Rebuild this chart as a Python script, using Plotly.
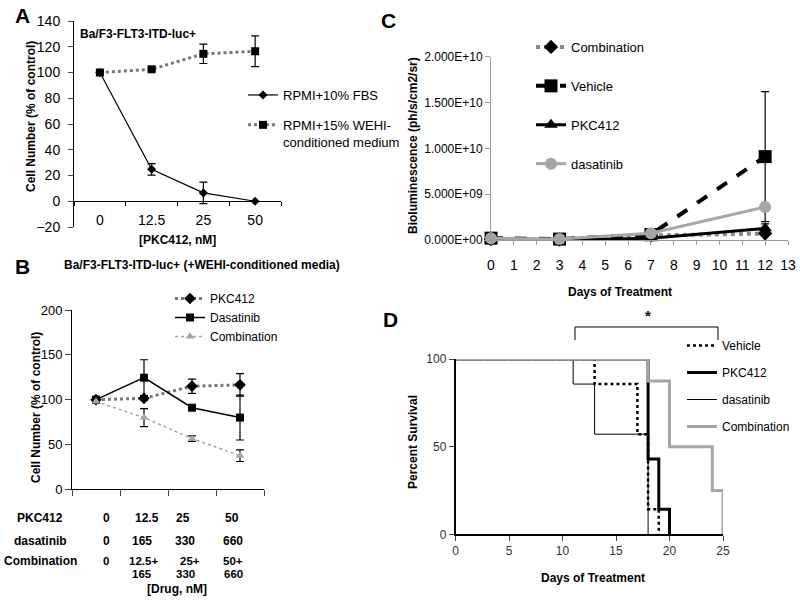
import plotly.graph_objects as go

# ---------------- data ----------------
# Panel A
a_conc = ["0", "12.5", "25", "50"]
a_fbs = [100, 24.8, 6.5, 0]
a_fbs_err = [0, 4.5, 8.3, 0]
a_wehi = [100, 102.5, 114.5, 116.5]
a_wehi_err = [1, 1, 7.5, 12]

# Panel B
b_conc = ["0", "12.5", "25", "50"]
b_pkc = [100, 101.5, 115, 116.5]
b_pkc_err = [2, 2, 8, 12.5]
b_das = [100, 124.5, 91, 80]
b_das_err = [3, 20, 2.5, 25]
b_comb = [98, 80, 56.5, 37.5]
b_comb_err = [2, 10, 3, 6.5]
b_tbl_pkc = ["0", "12.5", "25", "50"]
b_tbl_das = ["0", "165", "330", "660"]
b_tbl_comb_top = ["0", "12.5+", "25+", "50+"]
b_tbl_comb_bot = ["", "165", "330", "660"]

# Panel C
c_days = [0, 3, 7, 12]
c_comb = [1.0e8, 0.5e8, 5.0e8, 7.0e8]
c_veh = [2.0e8, 1.0e8, 6.0e8, 9.1e9]
c_veh_err = [0, 0, 0, 7.1e9]
c_pkc = [0.0, 0.0, 2.0e8, 1.27e9]
c_pkc_err = [0, 0, 0, 5e8]
c_das = [2.0e8, 1.0e8, 7.3e8, 3.6e9]
c_ytickvals = [0, 5e9, 1e10, 1.5e10, 2e10]
c_yticktext = ["0.000E+00", "5.000E+09", "1.000E+10", "1.500E+10", "2.000E+10"]

# Panel D (Kaplan-Meier steps)
d_veh_t = [0, 13, 17, 18, 19]
d_veh_s = [100, 85.7, 57.1, 14.3, 0]
d_pkc_t = [0, 18, 19, 20]
d_pkc_s = [100, 42.9, 14.3, 0]
d_das_t = [0, 11, 13, 18]
d_das_s = [100, 85.7, 57.1, 0]
d_comb_t = [0, 18, 20, 24, 25]
d_comb_s = [100, 87.5, 50, 25, 0]

# ---------------- style ----------------
W, H = 800, 601
SANS = "Liberation Sans, Arial, sans-serif"
GREY = "#a6a6a6"


def px(x):
    return x / W


def py(y):
    return 1 - y / H


fig = go.Figure()

# ----- Panel A -----
fig.add_trace(go.Scatter(
    x=a_conc, y=a_fbs, mode="lines+markers", name="RPMI+10% FBS",
    line=dict(color="black", width=1.2), marker=dict(symbol="diamond", size=7, color="black"),
    error_y=dict(type="data", array=a_fbs_err, color="black", thickness=1.2, width=4),
    xaxis="x", yaxis="y", legend="legend", legendgroup="a1", cliponaxis=False))
fig.add_trace(go.Scatter(
    x=a_conc, y=a_wehi, mode="lines+markers", name="RPMI+15% WEHI-<br>conditioned medium",
    line=dict(color="#777777", width=3, dash="dot"), marker=dict(symbol="square", size=8, color="black"),
    error_y=dict(type="data", array=a_wehi_err, color="black", thickness=1.2, width=4),
    xaxis="x", yaxis="y", legend="legend", legendgroup="a2", cliponaxis=False))

# ----- Panel B -----
fig.add_trace(go.Scatter(
    x=b_conc, y=b_pkc, mode="lines+markers", name="PKC412",
    line=dict(color="#777777", width=3, dash="dot"), marker=dict(symbol="diamond", size=9, color="black"),
    error_y=dict(type="data", array=b_pkc_err, color="black", thickness=1.2, width=4),
    xaxis="x2", yaxis="y2", legend="legend2", legendgroup="b1", cliponaxis=False))
fig.add_trace(go.Scatter(
    x=b_conc, y=b_das, mode="lines+markers", name="Dasatinib",
    line=dict(color="black", width=1.5), marker=dict(symbol="square", size=8, color="black"),
    error_y=dict(type="data", array=b_das_err, color="black", thickness=1.2, width=4),
    xaxis="x2", yaxis="y2", legend="legend2", legendgroup="b2", cliponaxis=False))
fig.add_trace(go.Scatter(
    x=b_conc, y=b_comb, mode="lines+markers", name="Combination",
    line=dict(color=GREY, width=1.5, dash="dot"), marker=dict(symbol="triangle-up", size=8, color=GREY),
    error_y=dict(type="data", array=b_comb_err, color="black", thickness=1.2, width=4),
    xaxis="x2", yaxis="y2", legend="legend2", legendgroup="b3", cliponaxis=False))

# ----- Panel C -----
fig.add_trace(go.Scatter(
    x=c_days, y=c_comb, mode="lines+markers", name="Combination",
    line=dict(color="#888888", width=4, dash="dot"), marker=dict(symbol="diamond", size=11, color="black"),
    xaxis="x3", yaxis="y3", legend="legend3", legendgroup="c1", cliponaxis=False))
fig.add_trace(go.Scatter(
    x=c_days, y=c_veh, mode="lines+markers", name="Vehicle",
    line=dict(color="black", width=4, dash="dash"), marker=dict(symbol="square", size=13, color="black"),
    error_y=dict(type="data", array=c_veh_err, color="black", thickness=1.2, width=4),
    xaxis="x3", yaxis="y3", legend="legend3", legendgroup="c2", cliponaxis=False))
fig.add_trace(go.Scatter(
    x=c_days, y=c_pkc, mode="lines+markers", name="PKC412",
    line=dict(color="black", width=3), marker=dict(symbol="triangle-up", size=12, color="black"),
    error_y=dict(type="data", array=c_pkc_err, color="black", thickness=1.2, width=4),
    xaxis="x3", yaxis="y3", legend="legend3", legendgroup="c3", cliponaxis=False))
fig.add_trace(go.Scatter(
    x=c_days, y=c_das, mode="lines+markers", name="dasatinib",
    line=dict(color=GREY, width=3), marker=dict(symbol="circle", size=12, color=GREY),
    xaxis="x3", yaxis="y3", legend="legend3", legendgroup="c4", cliponaxis=False))

# ----- Panel D -----
fig.add_trace(go.Scatter(
    x=d_veh_t, y=d_veh_s, mode="lines", line_shape="hv", name="Vehicle",
    line=dict(color="black", width=2.5, dash="dot"),
    xaxis="x4", yaxis="y4", legend="legend4", legendgroup="d1", cliponaxis=False))
fig.add_trace(go.Scatter(
    x=d_pkc_t, y=d_pkc_s, mode="lines", line_shape="hv", name="PKC412",
    line=dict(color="black", width=3),
    xaxis="x4", yaxis="y4", legend="legend4", legendgroup="d2", cliponaxis=False))
fig.add_trace(go.Scatter(
    x=d_das_t, y=d_das_s, mode="lines", line_shape="hv", name="dasatinib",
    line=dict(color="black", width=1),
    xaxis="x4", yaxis="y4", legend="legend4", legendgroup="d3", cliponaxis=False))
fig.add_trace(go.Scatter(
    x=d_comb_t, y=d_comb_s, mode="lines", line_shape="hv", name="Combination",
    line=dict(color=GREY, width=3),
    xaxis="x4", yaxis="y4", legend="legend4", legendgroup="d4", cliponaxis=False))

# ---------------- axes ----------------
a_dom_y = [py(227), py(21)]
a_yr = [-20, 140]
a_zero_pos = a_dom_y[0] + (0 - a_yr[0]) / (a_yr[1] - a_yr[0]) * (a_dom_y[1] - a_dom_y[0])

layout = dict(
    width=W, height=H, margin=dict(l=0, r=0, t=0, b=0, autoexpand=False),
    paper_bgcolor="white", plot_bgcolor="rgba(0,0,0,0)",
    font=dict(family=SANS, color="black", size=12),
    showlegend=True,
    # A
    xaxis=dict(domain=[px(74), px(281)], type="category", range=[-0.5, 3.5], automargin=False,
               anchor="free", position=a_zero_pos, showline=False, showgrid=False, zeroline=False,
               ticks="outside", ticklen=4, tickson="boundaries", tickcolor="black",
               ticklabelstandoff=9, tickfont=dict(family=SANS, size=14)),
    yaxis=dict(domain=a_dom_y, range=a_yr, dtick=20, anchor="x", showline=True, linecolor="black",
               automargin=False, showgrid=False, zeroline=True, zerolinecolor="black", zerolinewidth=1,
               ticks="outside", ticklen=5, ticklabelstandoff=5, tickfont=dict(family=SANS, size=14)),
    # B
    xaxis2=dict(domain=[px(72), px(264)], type="category", range=[-0.5, 3.5], anchor="y2",
                automargin=False, showline=True, linecolor="black", showgrid=False, zeroline=False,
                ticks="outside", ticklen=6, tickson="boundaries", showticklabels=False),
    yaxis2=dict(domain=[py(489.3), py(310)], range=[0, 200], dtick=50, anchor="x2", automargin=False,
                showline=True, linecolor="black", showgrid=False, zeroline=False,
                ticks="outside", ticklen=6, tickfont=dict(family=SANS, size=13)),
    # C
    xaxis3=dict(domain=[px(491), px(788)], range=[0, 13], dtick=1, anchor="y3", automargin=False,
                showline=True, linecolor="#9a9a9a", showgrid=False, zeroline=False,
                ticks="outside", ticklen=4, tickcolor="#9a9a9a", ticklabelstandoff=8,
                tickfont=dict(family=SANS, size=14)),
    yaxis3=dict(domain=[py(240), py(56.7)], range=[0, 2e10], anchor="x3", automargin=False,
                tickvals=c_ytickvals, ticktext=c_yticktext,
                showline=True, linecolor="#9a9a9a", showgrid=False, zeroline=False,
                ticks="outside", ticklen=5, tickcolor="#9a9a9a",
                tickfont=dict(family=SANS, size=12)),
    # D
    xaxis4=dict(domain=[px(455.5), px(723)], range=[0, 25], dtick=5, anchor="y4", automargin=False,
                showline=True, linecolor="black", linewidth=1.5, showgrid=False, zeroline=False,
                ticks="outside", ticklen=5, tickfont=dict(family=SANS, size=12, color="#333")),
    yaxis4=dict(domain=[py(534.3), py(359)], range=[0, 100], dtick=50, anchor="x4", automargin=False,
                showline=True, linecolor="black", linewidth=1.5, showgrid=False, zeroline=False,
                ticks="outside", ticklen=5, tickfont=dict(family=SANS, size=12, color="#333")),
    # legends
    legend=dict(x=px(243), y=py(80), xanchor="left", yanchor="top", bgcolor="rgba(0,0,0,0)",
                font=dict(family=SANS, size=13, color="black"), tracegroupgap=10, valign="top"),
    legend2=dict(x=px(170), y=py(284), xanchor="left", yanchor="top", bgcolor="rgba(0,0,0,0)",
                 font=dict(family=SANS, size=12, color="black"), tracegroupgap=0),
    legend3=dict(x=px(531), y=py(32), xanchor="left", yanchor="top", bgcolor="rgba(0,0,0,0)",
                 font=dict(family=SANS, size=13, color="black"), tracegroupgap=19),
    legend4=dict(x=px(682), y=py(331), xanchor="left", yanchor="top", bgcolor="rgba(0,0,0,0)",
                 font=dict(family=SANS, size=12, color="black"), tracegroupgap=8),
)
fig.update_layout(**layout)

# ---------------- text ----------------
ann = []


def txt(x, y, t, size=12, bold=True, angle=0, xanchor="center", font=SANS):
    ann.append(dict(x=px(x), y=py(y), xref="paper", yref="paper", text=("<b>%s</b>" % t) if bold else t,
                    showarrow=False, xanchor=xanchor, yanchor="middle", textangle=angle,
                    font=dict(family=font, size=size, color="black")))


# panel letters
txt(22, 16, "A", size=21)
txt(22, 266, "B", size=21)
txt(388, 21, "C", size=21)
txt(390, 319, "D", size=21)

# A
txt(138, 34, "Ba/F3-FLT3-ITD-luc+", size=12)
txt(31, 117, "Cell Number (% of control)", size=12, angle=-90)
txt(177, 240, "[PKC412, nM]", size=12)

# B
txt(202, 265, "Ba/F3-FLT3-ITD-luc+ (+WEHI-conditioned media)", size=12)
txt(36, 408, "Cell Number (% of control)", size=12, angle=-90)
table_rows = [
    (518, "PKC412", b_tbl_pkc, [106, 147, 183, 232], 12),
    (541, "dasatinib", b_tbl_das, [106, 142, 185, 233], 12),
    (561, "Combination", b_tbl_comb_top, [106, 143, 190, 233], 11.5),
    (574, "", b_tbl_comb_bot, [106, 142, 185, 233], 11.5),
]
for ry, rl, rv, cols, fs in table_rows:
    if rl:
        txt(40, ry, rl, size=12)
    for cx, v in zip(cols, rv):
        if v:
            txt(cx, ry, v, size=fs)
txt(177, 589, "[Drug, nM]", size=12)

# C
txt(413, 146, "Bioluminescence (ph/s/cm2/sr)", size=12, angle=-90)
txt(620, 292, "Days of Treatment", size=12)

# D
txt(413, 442, "Percent Survival", size=12, angle=-90)
txt(593, 578, "Days of Treatment", size=12)
txt(648, 315, "*", size=15)

fig.update_layout(annotations=ann)

# significance bracket
fig.add_shape(type="path", xref="paper", yref="paper",
              path="M %f %f L %f %f L %f %f L %f %f" % (px(575), py(340), px(575), py(327),
                                                        px(718), py(327), px(718), py(340)),
              line=dict(color="black", width=1))

fig.write_html("out.html", config={"displayModeBar": False},
               post_script="document.body.style.margin='0';document.body.style.padding='0';")
